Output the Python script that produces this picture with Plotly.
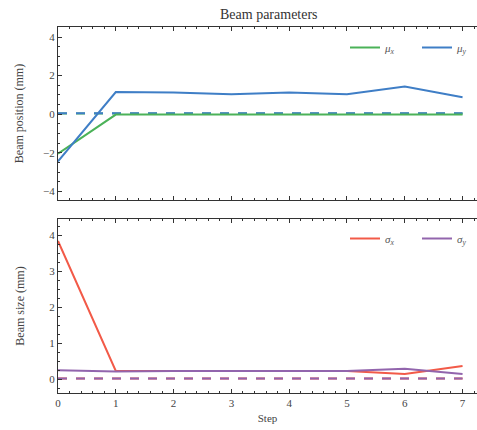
import plotly.graph_objects as go

# Optimisation steps and measured beam parameters (mm)
steps = [0, 1, 2, 3, 4, 5, 6, 7]
mu_x = [-2.05, -0.02, -0.02, -0.02, -0.02, -0.02, -0.04, -0.02]
mu_y = [-2.45, 1.15, 1.13, 1.03, 1.13, 1.03, 1.43, 0.88]
sigma_x = [3.84, 0.23, 0.23, 0.23, 0.23, 0.23, 0.15, 0.37]
sigma_y = [0.25, 0.22, 0.23, 0.23, 0.23, 0.23, 0.29, 0.15]

# Target values for each parameter
target_mu_x = [0.03] * len(steps)
target_mu_y = [0.05] * len(steps)
target_sigma_x = [0.02] * len(steps)
target_sigma_y = [0.02] * len(steps)

GREEN = "#4bb258"
BLUE = "#3f7ec6"
RED = "#f25a48"
PURPLE = "#9265ad"

W, H = 477, 430
FONT = "Liberation Serif, DejaVu Serif, serif"
AX_COLOR = "#333333"
TXT = "#444444"


def px_y(p):
    return 1 - p / H


fig = go.Figure()

# Upper panel: beam position
fig.add_trace(go.Scatter(x=steps, y=target_mu_x, mode="lines", showlegend=False,
                         line=dict(color=GREEN, width=2, dash="dash"), xaxis="x", yaxis="y"))
fig.add_trace(go.Scatter(x=steps, y=target_mu_y, mode="lines", showlegend=False,
                         line=dict(color=BLUE, width=2, dash="dash"), xaxis="x", yaxis="y"))
fig.add_trace(go.Scatter(x=steps, y=mu_x, mode="lines", name="<i>μ<sub>x</sub></i>",
                         line=dict(color=GREEN, width=2), xaxis="x", yaxis="y", legend="legend"))
fig.add_trace(go.Scatter(x=steps, y=mu_y, mode="lines", name="<i>μ<sub>y</sub></i>",
                         line=dict(color=BLUE, width=2), xaxis="x", yaxis="y", legend="legend"))

# Lower panel: beam size
fig.add_trace(go.Scatter(x=steps, y=target_sigma_x, mode="lines", showlegend=False,
                         line=dict(color=RED, width=2, dash="dash"), xaxis="x2", yaxis="y2"))
fig.add_trace(go.Scatter(x=steps, y=target_sigma_y, mode="lines", showlegend=False,
                         line=dict(color=PURPLE, width=2, dash="dash"), xaxis="x2", yaxis="y2"))
fig.add_trace(go.Scatter(x=steps, y=sigma_x, mode="lines", name="<i>σ<sub>x</sub></i>",
                         line=dict(color=RED, width=2), xaxis="x2", yaxis="y2", legend="legend2"))
fig.add_trace(go.Scatter(x=steps, y=sigma_y, mode="lines", name="<i>σ<sub>y</sub></i>",
                         line=dict(color=PURPLE, width=2), xaxis="x2", yaxis="y2", legend="legend2"))

x_dom = [58 / W, 1.0]
x_range = [0, 7.25]

common_x = dict(
    range=x_range, domain=x_dom, showgrid=False, zeroline=False,
    showline=True, linecolor=AX_COLOR, linewidth=1.2, mirror="allticks",
    ticks="inside", ticklen=4, tickwidth=1, tickcolor=AX_COLOR,
    tickvals=steps,
    minor=dict(ticks="inside", ticklen=2, tickcolor=AX_COLOR, dtick=0.2, tick0=0),
    tickfont=dict(family=FONT, size=11, color=TXT),
)
common_y = dict(
    showgrid=False, zeroline=False, showline=True, linecolor=AX_COLOR, linewidth=1.2,
    ticks="inside", ticklen=4, tickwidth=1, tickcolor=AX_COLOR,
    tickfont=dict(family=FONT, size=11, color=TXT),
    title_font=dict(family=FONT, size=12, color=TXT),
)

legend_style = dict(orientation="h", x=345 / W, xanchor="left", yanchor="top",
                    bgcolor="rgba(0,0,0,0)", font=dict(family=FONT, size=11, color="#555555"),
                    itemwidth=30, entrywidth=27, tracegroupgap=0)

fig.update_layout(
    width=W, height=H,
    margin=dict(l=0, r=0, t=0, b=0, autoexpand=False),
    paper_bgcolor="white", plot_bgcolor="white",
    font=dict(family=FONT, color="#333333"),
    xaxis=dict(**common_x, anchor="y", showticklabels=False),
    yaxis=dict(**common_y, domain=[px_y(200), px_y(27)], range=[-4.45, 4.52],
               anchor="x", tickvals=[-4, -2, 0, 2, 4], ticktext=["−4", "−2", "0", "2", "4"],
               minor=dict(ticks="inside", ticklen=2, tickcolor=AX_COLOR, dtick=0.5, tick0=0),
               title_text="Beam position (mm)", title_standoff=16),
    xaxis2=dict(**common_x, anchor="y2",
                title=dict(text="Step", font=dict(family=FONT, size=11, color=TXT), standoff=6)),
    yaxis2=dict(**common_y, domain=[px_y(393), px_y(219)], range=[-0.38, 4.45],
                anchor="x2", tickvals=[0, 1, 2, 3, 4],
                minor=dict(ticks="inside", ticklen=2, tickcolor=AX_COLOR, dtick=0.25, tick0=0),
                title_text="Beam size (mm)", title_standoff=22),
    legend=dict(**legend_style, y=px_y(33)),
    legend2=dict(**legend_style, y=px_y(224)),
    annotations=[dict(text="Beam parameters", x=(58 + 480) / 2 / W, y=px_y(14),
                      xref="paper", yref="paper", xanchor="center", yanchor="middle",
                      showarrow=False,
                      font=dict(family=FONT, size=14, color="#333333"))],
)

fig.write_html("out.html")
